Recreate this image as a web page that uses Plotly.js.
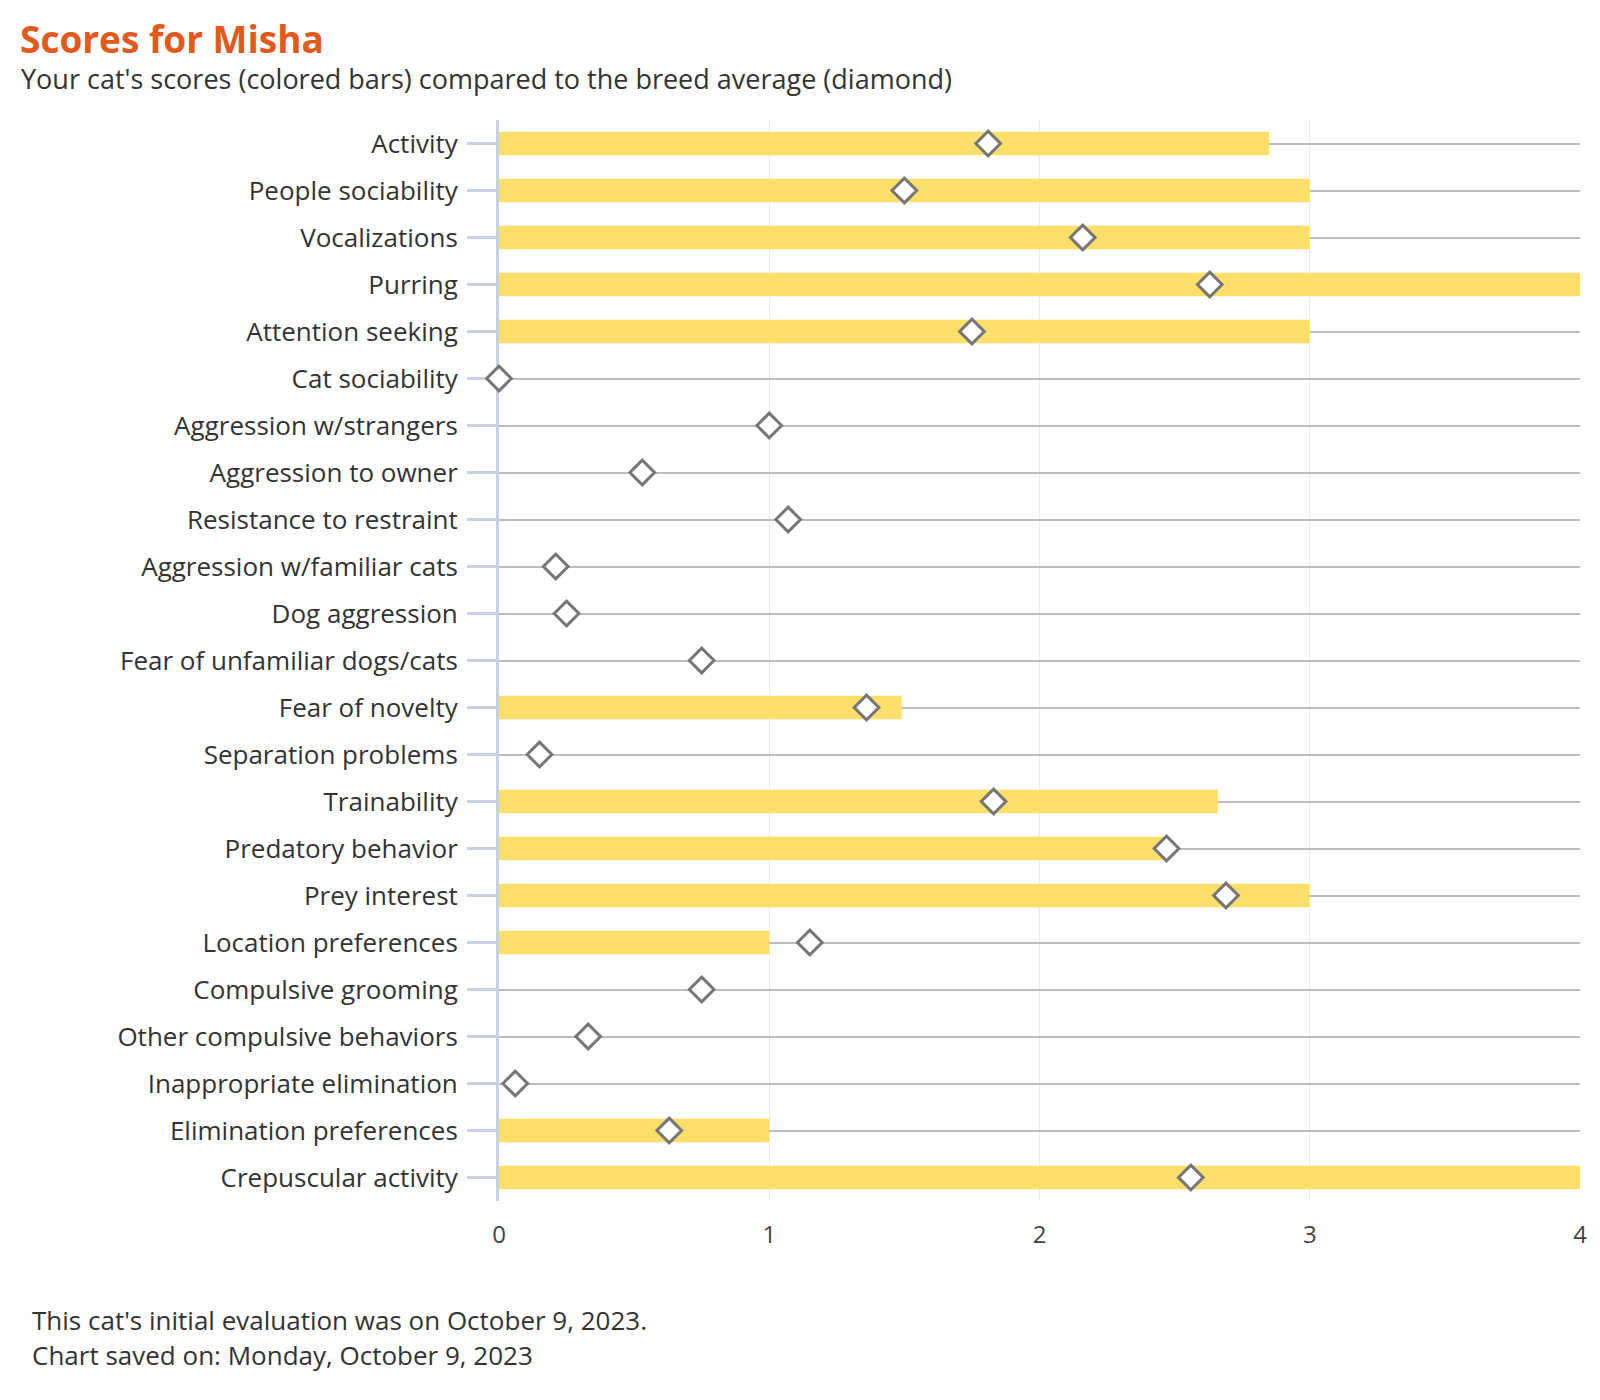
<!DOCTYPE html>
<html>
<head>
<meta charset="utf-8">
<script src="https://cdn.plot.ly/plotly-3.0.1.min.js"></script>
<style>
  html, body { margin: 0; padding: 0; background: #ffffff; }
  #chart { width: 1600px; height: 1400px; }
</style>
</head>
<body>
<div id="chart"></div>
<script>
const categories = [
  "Activity", "People sociability", "Vocalizations", "Purring", "Attention seeking",
  "Cat sociability", "Aggression w/strangers", "Aggression to owner", "Resistance to restraint",
  "Aggression w/familiar cats", "Dog aggression", "Fear of unfamiliar dogs/cats", "Fear of novelty",
  "Separation problems", "Trainability", "Predatory behavior", "Prey interest",
  "Location preferences", "Compulsive grooming", "Other compulsive behaviors",
  "Inappropriate elimination", "Elimination preferences", "Crepuscular activity"
];
const catScores = [
  2.85, 3, 3, 4, 3,
  0, 0, 0, 0,
  0, 0, 0, 1.49,
  0, 2.66, 2.48, 3,
  1, 0, 0,
  0, 1, 4
];
const breedAverage = [
  1.81, 1.50, 2.16, 2.63, 1.75,
  0.00, 1.00, 0.53, 1.07,
  0.21, 0.25, 0.75, 1.36,
  0.15, 1.83, 2.47, 2.69,
  1.15, 0.75, 0.33,
  0.06, 0.63, 2.56
];
const xTickValues = [0, 1, 2, 3, 4];
const titleText = "Scores for Misha";
const subtitleText = "Your cat's scores (colored bars) compared to the breed average (diamond)";
const footerLines = [
  "This cat's initial evaluation was on October 9, 2023.",
  "Chart saved on: Monday, October 9, 2023"
];

const FONT = "Open Sans, Roboto, Lato, sans-serif";

const W = 1600, H = 1400;
const mL = 499, mR = 20, mT = 120, mB = 199;
const plotW = W - mL - mR, plotH = H - mT - mB;
const px = (x) => (x - mL) / plotW;
const py = (y) => (H - mB - y) / plotH;

const traces = [
  {
    type: "bar",
    orientation: "h",
    y: categories,
    x: catScores,
    width: 0.5,
    marker: { color: "#FDDF6A", line: { width: 0 } },
    hoverinfo: "x+y",
    showlegend: false
  },
  {
    type: "scatter",
    mode: "markers",
    y: categories,
    x: breedAverage,
    marker: {
      symbol: "diamond",
      size: 19,
      color: "#ffffff",
      line: { color: "#767676", width: 3 }
    },
    cliponaxis: false,
    hoverinfo: "x+y",
    showlegend: false
  }
];

const layout = {
  width: W,
  height: H,
  margin: { l: mL, r: mR, t: mT, b: mB, pad: 0 },
  paper_bgcolor: "#ffffff",
  plot_bgcolor: "#ffffff",
  font: { family: FONT, size: 26, color: "#333333" },
  showlegend: false,
  bargap: 0.5,
  xaxis: {
    range: [0, 4],
    tickvals: xTickValues,
    ticktext: xTickValues.map(String),
    showgrid: true,
    gridcolor: "#ebebeb",
    gridwidth: 1,
    zeroline: false,
    showline: false,
    ticks: "",
    ticklabelstandoff: 17,
    tickfont: { family: FONT, size: 24, color: "#444444" },
    fixedrange: true
  },
  yaxis: {
    type: "category",
    categoryorder: "array",
    categoryarray: categories,
    range: [categories.length - 0.5, -0.5],
    showgrid: true,
    gridcolor: "#bdbdbd",
    gridwidth: 2,
    zeroline: false,
    showline: true,
    linecolor: "#c4d2e2",
    linewidth: 3,
    layer: "below traces",
    ticks: "outside",
    ticklen: 29,
    tickwidth: 3,
    tickcolor: "#c4d2e2",
    ticklabelstandoff: 4,
    tickfont: { family: FONT, size: 26, color: "#333333" },
    fixedrange: true
  },
  annotations: [
    {
      text: "<b>" + titleText + "</b>",
      xref: "paper", yref: "paper",
      x: px(18), y: py(38),
      xanchor: "left", yanchor: "middle",
      showarrow: false,
      font: { family: FONT, size: 37, color: "#E3591B" }
    },
    {
      text: subtitleText,
      xref: "paper", yref: "paper",
      x: px(19), y: py(79),
      xanchor: "left", yanchor: "middle",
      showarrow: false,
      font: { family: FONT, size: 27, color: "#333333" }
    },
    {
      text: footerLines[0],
      xref: "paper", yref: "paper",
      x: px(30), y: py(1320),
      xanchor: "left", yanchor: "middle",
      showarrow: false,
      font: { family: FONT, size: 26, color: "#333333" }
    },
    {
      text: footerLines[1],
      xref: "paper", yref: "paper",
      x: px(30), y: py(1355),
      xanchor: "left", yanchor: "middle",
      showarrow: false,
      font: { family: FONT, size: 26, color: "#333333" }
    }
  ]
};

Plotly.newPlot("chart", traces, layout, { displayModeBar: false, staticPlot: true });
</script>
</body>
</html>
